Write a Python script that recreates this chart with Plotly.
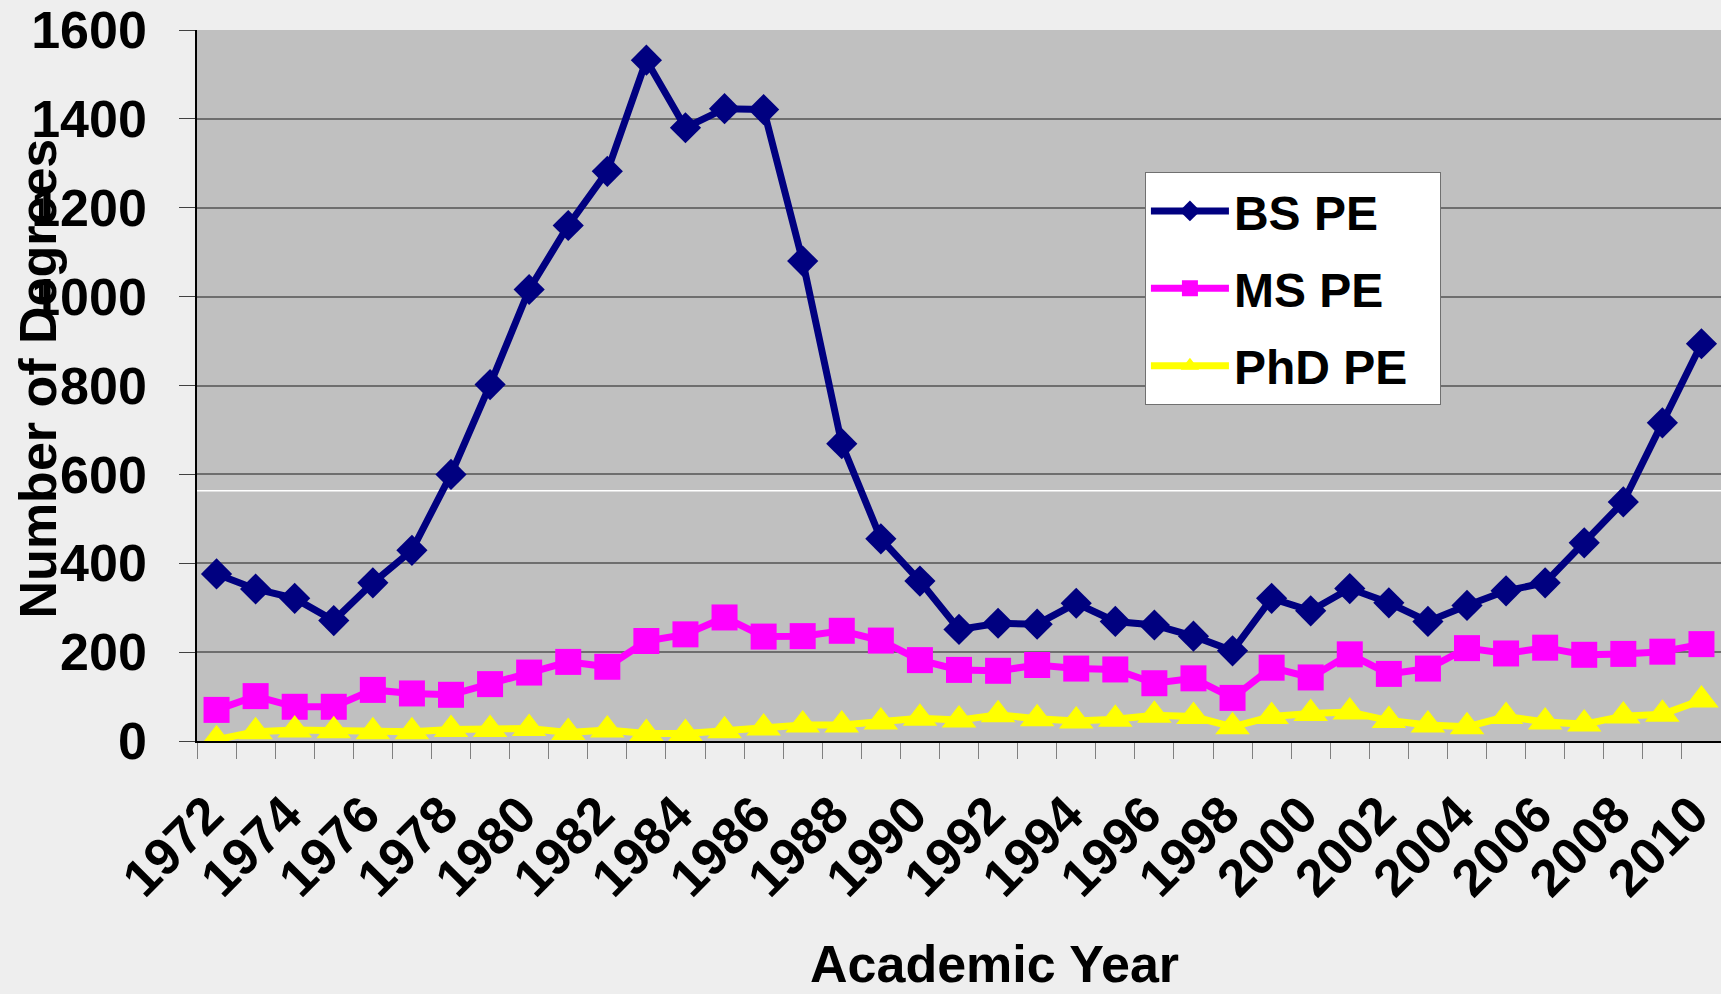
import plotly.graph_objects as go

years = list(range(1972, 2011))
bs_pe = [376, 342, 321, 271, 356, 429, 600, 802, 1016,
         1160, 1282, 1532, 1380, 1423, 1421, 1080, 669, 455, 360,
         251, 265, 263, 310, 269, 261, 236, 203, 321, 293,
         343, 311, 269, 305, 338, 356, 446, 538, 716, 894]
ms_pe = [70, 101, 77, 77, 115, 107, 104, 128, 154,
         178, 167, 225, 240, 278, 235, 236, 248, 226, 182,
         160, 158, 171, 163, 161, 130, 141, 97, 165, 143,
         195, 151, 163, 209, 197, 210, 194, 196, 201, 218]
phd_pe = [3, 21, 25, 23, 21, 21, 26, 26, 28,
          19, 25, 17, 17, 23, 29, 36, 36, 43, 51,
          47, 59, 50, 45, 49, 58, 55, 32, 55, 62,
          65, 46, 36, 32, 55, 43, 38, 56, 60, 92]
year_labels = years[::2]

FONT = "Arial, Liberation Sans, sans-serif"
BOLD = dict(family=FONT, size=52, color="black", weight="bold")

# legend names get a little trailing padding so the box is as wide as Excel's
series = [
    ("BS PE", bs_pe, "#000080", "diamond", 24),
    ("MS PE", ms_pe, "#FF00FF", "square", 26),
    ("PhD PE\u00a0\u00a0", phd_pe, "#FFFF00", "triangle-up", 30),
]

fig = go.Figure()
for name, vals, color, symbol, size in series:
    fig.add_trace(go.Scatter(
        x=years, y=vals, name=name, mode="lines+markers",
        line=dict(color=color, width=7),
        marker=dict(symbol=symbol, size=size, color=color),
        legendgroup=name,
    ))

# Excel puts the angled year labels a touch left of the category centre
label_shift = -0.22

fig.update_layout(
    width=1721, height=994,
    margin=dict(l=197, r=0, t=30, b=253, autoexpand=False),
    paper_bgcolor="#EEEEEE",
    plot_bgcolor="#C0C0C0",
    font=dict(family=FONT, color="black"),
    showlegend=True,
    legend=dict(
        x=0.622, y=0.80, xanchor="left", yanchor="top",
        bgcolor="white", bordercolor="#707070", borderwidth=1,
        font=dict(family=FONT, size=48, color="black", weight="bold"),
        itemwidth=78, tracegroupgap=12,
    ),
    xaxis=dict(
        range=[1971.5, 2010.5], automargin=False,
        tickmode="array", tickvals=[y + label_shift for y in year_labels],
        ticktext=[str(y) for y in year_labels],
        tickangle=-45, tickfont=BOLD, ticks="",
        ticklabelstandoff=20, ticklabeloverflow="allow",
        showgrid=False, zeroline=False,
        showline=True, linecolor="black", linewidth=2,
        minor=dict(tickmode="linear", tick0=1971.5, dtick=1,
                   ticks="outside", ticklen=16, tickcolor="#808080",
                   showgrid=False),
    ),
    yaxis=dict(
        range=[0, 1600], dtick=200, automargin=False,
        tickfont=BOLD, ticks="outside", ticklen=16, tickcolor="#404040",
        ticklabelstandoff=22,
        showgrid=True, gridcolor="#6E6E6E", gridwidth=1.5,
        zeroline=False,
        showline=True, linecolor="black", linewidth=1.5,
    ),
    shapes=[dict(type="line", xref="paper", x0=0, x1=1, yref="y", y0=563, y1=563,
                 line=dict(color="white", width=1.5), layer="below")],
    annotations=[
        dict(text="Number of Degrees", textangle=-90,
             xref="paper", yref="paper", x=-0.1043, y=0.51,
             xanchor="center", yanchor="middle", showarrow=False,
             font=dict(family=FONT, size=52, color="black", weight="bold")),
        dict(text="Academic Year",
             xref="paper", yref="paper", x=0.523, y=-0.3136,
             xanchor="center", yanchor="middle", showarrow=False,
             font=dict(family=FONT, size=52, color="black", weight="bold")),
    ],
)

fig.write_html("out.html", config={"displayModeBar": False},
               post_script="document.body.style.margin='0';document.body.style.overflow='hidden';")
